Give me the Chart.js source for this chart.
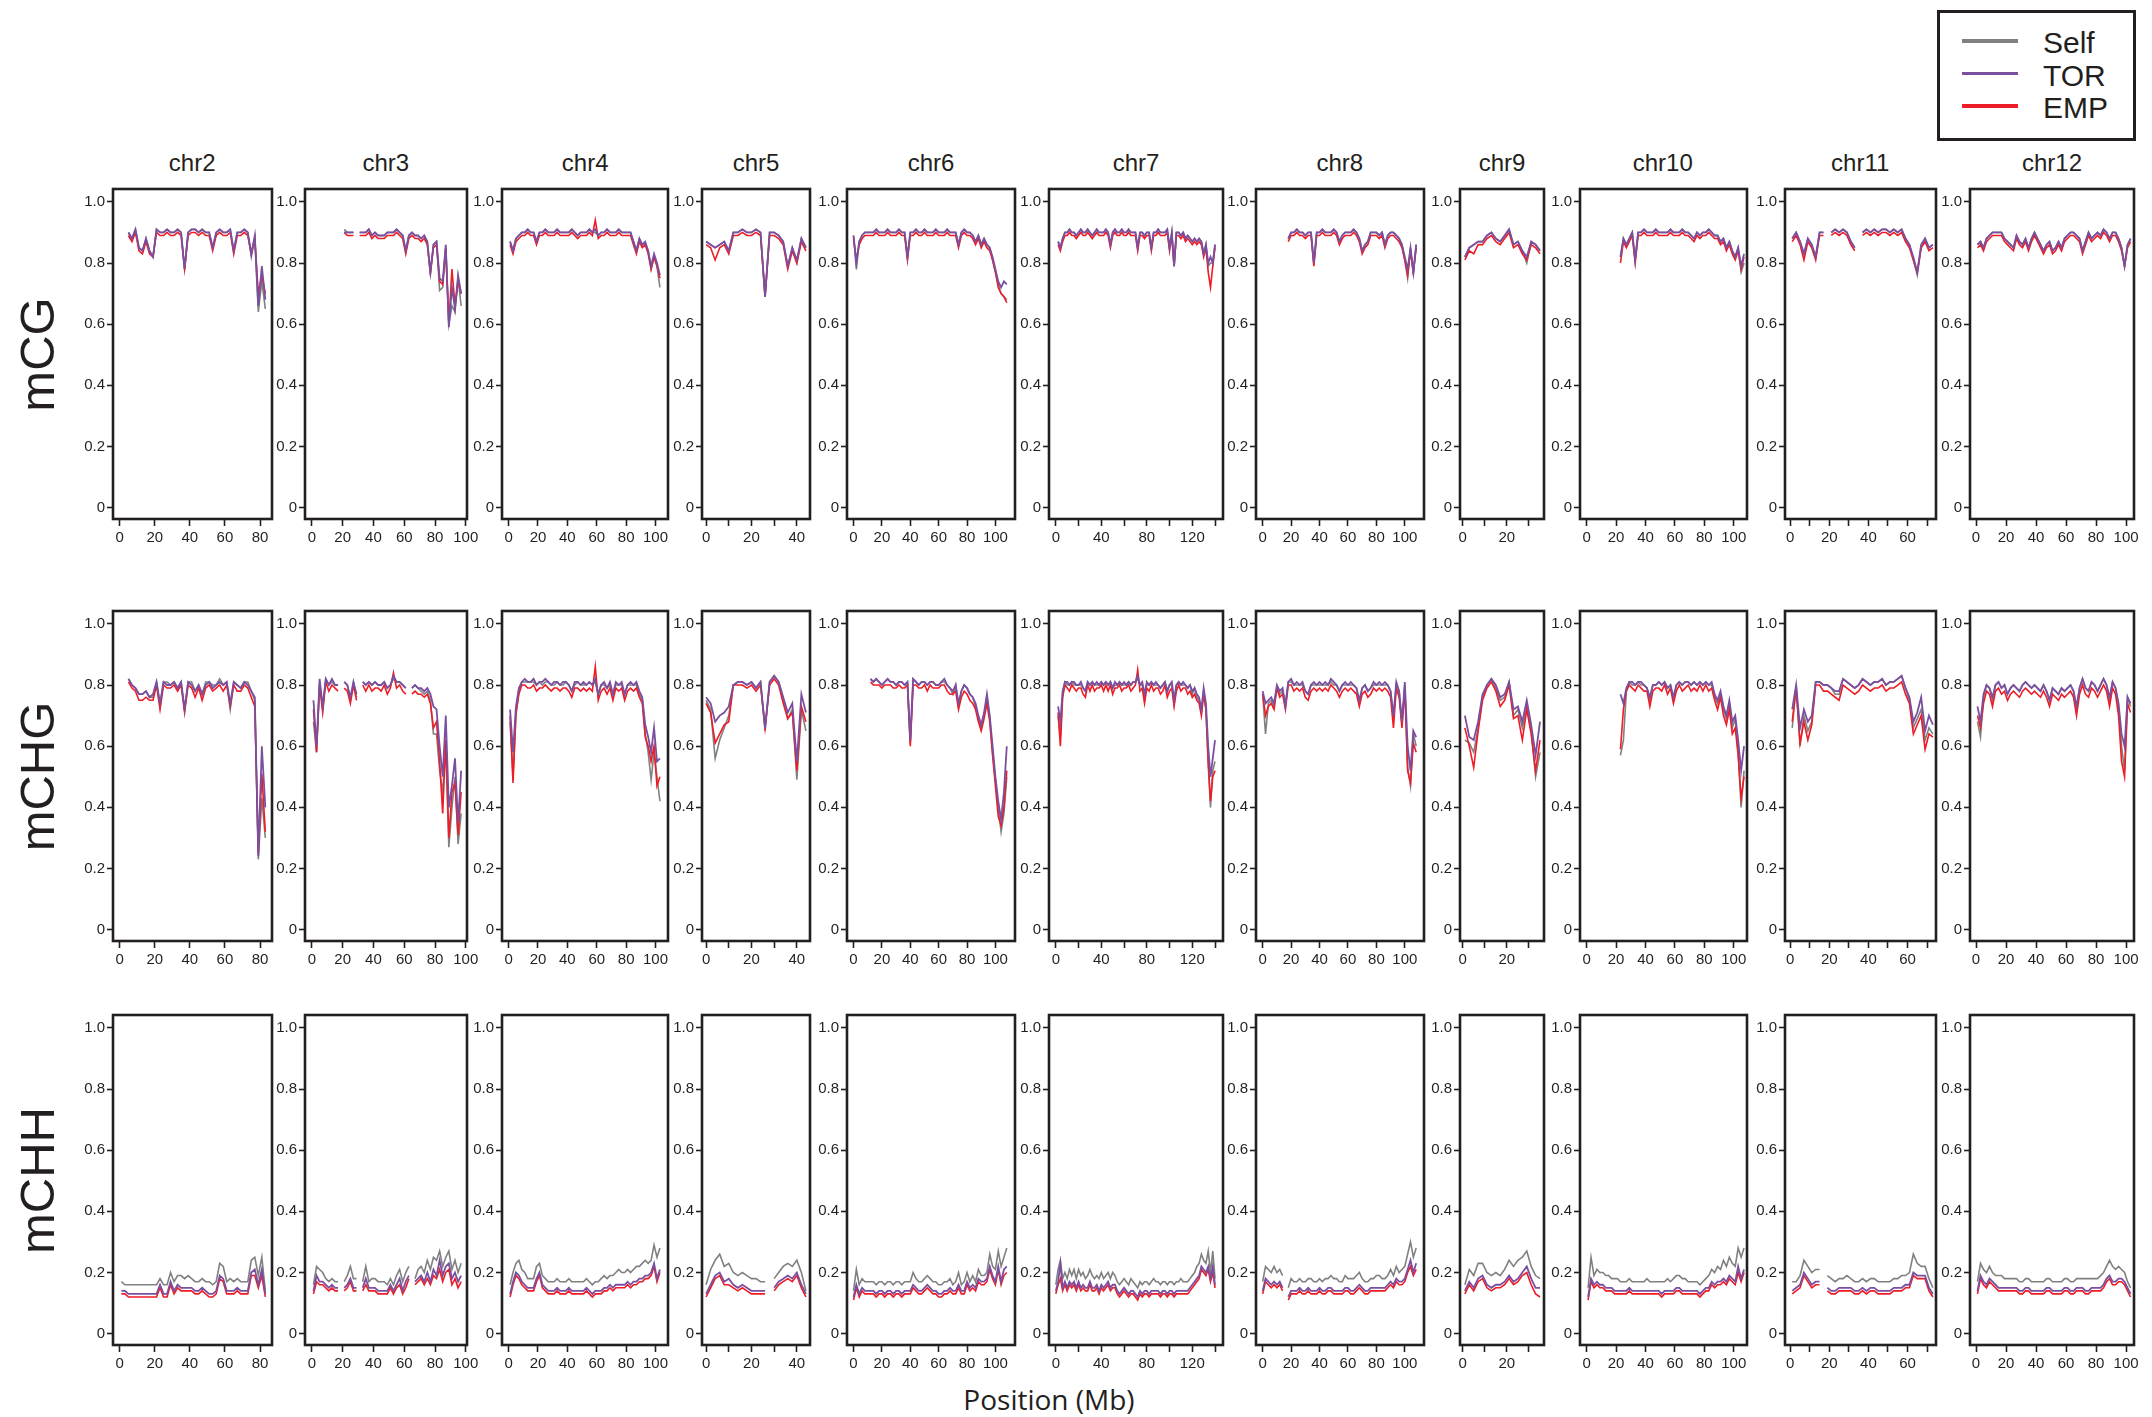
<!DOCTYPE html>
<html>
<head>
<meta charset="utf-8">
<script src="https://cdn.jsdelivr.net/npm/chart.js@4.4.1/dist/chart.umd.min.js"></script>
<style>
  body { margin: 0; background: #fff; width: 2152px; height: 1417px; position: relative; overflow: hidden;
         font-family: "Liberation Sans", Arial, sans-serif; color: #231f20; }
  canvas { position: absolute; }
  .lbl { position: absolute; white-space: nowrap; line-height: 1; }
</style>
</head>
<body>
<script>
const _ = null;

// Chromosomes, contexts and groups
const chromosomes = ['chr2', 'chr3', 'chr4', 'chr5', 'chr6', 'chr7', 'chr8', 'chr9', 'chr10', 'chr11', 'chr12'];
const contexts = ['mCG', 'mCHG', 'mCHH'];
const groups = ['Self', 'TOR', 'EMP'];

// Bins: first bin centre (Mb) per chromosome, 2 Mb apart
const binStart = [1, 1, 1, 0, 0, 0, 0, 1, 1, 1, 1];
const binSize = 2;

// Axis ranges and ticks per chromosome (Mb)
const xMin = [-3.8, -4.5, -4.5, -1.8, -4.6, -6, -4.7, -1.2, -4.5, -2.7, -4.0];
const xMax = [86.8, 100.8, 108.5, 45.8, 113.8, 147, 113.5, 36.8, 109, 74.6, 105.3];
const xTickStep = [20, 20, 20, 10, 20, 20, 20, 10, 20, 10, 20];
const xLabelStep = [20, 20, 20, 20, 20, 40, 20, 20, 20, 20, 20];
const yTicks = [0, 0.2, 0.4, 0.6, 0.8, 1.0];

// Methylation levels (%), one value per 2 Mb bin
const chr2_mCG_Self = [_,_,90,88,91,85,84,88,84,82, 91,90,90,91,90,90,91,90,78,90, 91,91,90,91,90,90,85,90,91,90, 90,91,84,90,90,91,90,82,88,64, 74,65];
const chr2_mCG_TOR  = [_,_,90,88,91,85,84,88,84,82, 91,90,90,91,90,90,91,90,78,90, 91,91,90,91,90,90,85,90,91,90, 90,91,84,90,90,91,90,83,89,66, 79,68];
const chr2_mCG_EMP  = [_,_,89,87,90,84,83,87,83,82, 90,89,89,90,89,89,90,89,78,89, 90,90,89,90,89,89,84,89,90,89, 89,90,83,89,89,90,89,83,88,70, 76,70];
const chr2_mCHG_Self = [_,_,82,80,79,77,77,78,76,76, 81,73,81,81,80,81,79,81,72,81, 81,78,80,77,81,81,80,80,82,80, 81,72,81,80,79,81,81,78,75,23, 43,30];
const chr2_mCHG_TOR  = [_,_,82,80,79,77,77,78,76,77, 81,74,81,80,80,81,79,81,72,81, 80,78,80,77,80,81,79,80,81,80, 81,74,81,80,79,81,80,78,76,24, 60,40];
const chr2_mCHG_EMP  = [_,_,81,79,78,75,75,76,75,75, 80,72,80,79,79,80,78,80,71,80, 79,76,79,75,79,80,78,79,80,78, 80,73,80,78,78,80,79,76,73,25, 51,32];
const chr2_mCHH_Self = [17,16,16,16,16,16,16,16,16,16, 16,18,16,16,20,17,19,19,18,19, 18,17,17,18,17,17,16,17,23,22, 17,18,17,18,17,17,17,24,25,19, 25,14];
const chr2_mCHH_TOR  = [14,14,13,13,13,13,13,13,13,13, 13,16,13,13,17,14,16,15,15,15, 15,14,14,15,14,13,13,14,19,18, 14,14,14,15,14,14,14,20,21,16, 21,13];
const chr2_mCHH_EMP  = [13,13,12,12,12,12,12,12,12,12, 12,15,12,12,16,13,15,14,14,14, 14,13,13,14,13,12,12,13,18,17, 13,13,13,14,13,13,13,19,19,15, 19,12];

const chr3_mCG_Self = [_,_,_,_,_,_,_,_,_,_, 91,90,90,90,_,90,90,90,91,89, 90,89,89,89,90,90,90,91,90,89, 84,89,90,89,89,88,89,87,76,86, 87,71,72,85,60,66,64,75,66];
const chr3_mCG_TOR  = [_,_,_,_,_,_,_,_,_,_, 90,90,90,90,_,90,90,90,91,89, 90,89,89,89,90,90,90,91,90,89, 84,89,90,89,89,88,89,87,77,86, 87,75,74,86,59,72,65,76,70];
const chr3_mCG_EMP  = [_,_,_,_,_,_,_,_,_,_, 90,89,89,89,_,89,89,89,90,88, 89,88,88,88,89,89,89,90,89,88, 83,88,89,88,88,87,88,86,77,85, 86,74,73,85,60,78,66,74,70];
const chr3_mCHG_Self = [68,58,81,72,82,80,81,80,80,_, 81,80,75,81,76,_,81,80,81,80, 81,80,80,81,79,80,82,81,81,80, 79,_,79,80,79,78,77,78,75,64, 64,52,45,60,27,40,50,28,38];
const chr3_mCHG_TOR  = [75,60,82,73,82,80,82,80,80,_, 81,80,76,81,77,_,81,80,81,80, 81,80,80,81,79,80,83,81,81,80, 79,_,79,80,79,79,78,79,77,73, 72,60,50,70,40,47,56,35,52];
const chr3_mCHG_EMP  = [72,58,80,71,81,78,80,79,78,_, 79,78,74,80,75,_,80,78,80,78, 79,79,78,80,77,79,84,79,80,78, 77,_,77,78,77,77,76,77,74,66, 68,55,38,62,30,45,48,31,45];
const chr3_mCHH_Self = [16,22,21,20,18,17,18,17,17,_, 17,19,22,18,18,_,17,22,17,18, 18,17,17,17,16,18,16,19,21,17, 20,22,_,18,21,22,20,24,21,25, 24,27,22,25,27,21,24,20,23];
const chr3_mCHH_TOR  = [14,19,17,17,16,15,16,15,15,_, 15,16,18,15,15,_,15,18,15,15, 15,14,14,14,14,16,14,16,18,14, 17,19,_,17,18,19,17,20,17,21, 19,24,19,22,23,18,20,17,19];
const chr3_mCHH_EMP  = [13,17,16,16,15,14,15,14,14,_, 14,15,17,14,14,_,14,16,14,14, 14,13,13,13,13,15,13,15,16,13, 15,18,_,16,17,18,16,18,16,19, 18,21,17,20,21,16,18,15,17];

const chr4_mCG_Self = [87,84,88,89,90,90,91,90,90,87, 90,90,91,90,90,90,91,90,90,90, 90,91,90,89,90,90,90,91,90,90, 89,90,90,91,90,90,90,91,90,90, 90,90,87,84,88,86,86,84,78,82, 79,72];
const chr4_mCG_TOR  = [87,84,88,89,90,90,91,90,90,87, 90,90,91,90,90,90,91,90,90,90, 90,91,90,89,90,90,90,91,90,91, 89,90,90,91,90,90,90,91,90,90, 90,90,87,84,88,86,87,84,79,83, 80,76];
const chr4_mCG_EMP  = [86,83,87,88,89,89,90,89,89,86, 89,89,90,89,89,89,90,89,89,89, 89,90,89,88,89,89,89,90,89,94, 88,89,89,90,89,89,89,90,89,89, 89,89,86,83,87,85,86,83,78,82, 79,75];
const chr4_mCHG_Self = [68,50,70,78,81,81,81,81,81,80, 81,80,81,81,80,80,81,80,80,81, 80,78,80,81,80,80,80,81,80,81, 77,80,80,79,80,77,80,80,80,77, 80,80,80,80,77,75,64,58,49,58, 50,42];
const chr4_mCHG_TOR  = [72,58,73,79,81,82,81,81,82,80, 81,81,82,81,80,81,81,80,81,81, 80,78,81,81,80,81,80,81,80,82, 77,80,81,79,81,77,81,80,81,77, 80,81,80,81,78,76,67,63,58,66, 55,56];
const chr4_mCHG_EMP  = [70,48,71,77,80,80,79,79,80,78, 79,79,80,79,78,79,79,78,79,79, 78,76,79,79,78,79,78,79,78,86, 75,78,79,77,79,75,79,78,79,75, 78,79,78,79,76,74,63,60,55,60, 47,50];
const chr4_mCHH_Self = [16,20,23,24,21,20,18,18,18,22, 23,19,18,17,17,17,18,17,17,17, 18,17,17,17,17,17,18,17,16,17, 17,18,19,18,19,19,20,21,20,20, 21,20,21,22,22,23,24,23,24,29, 25,28];
const chr4_mCHH_TOR  = [13,17,20,19,17,16,15,15,15,18, 20,16,15,14,14,14,15,14,14,14, 15,14,14,14,14,14,15,14,13,14, 14,14,15,15,16,15,16,16,16,16, 17,16,17,17,18,18,19,19,20,23, 18,21];
const chr4_mCHH_EMP  = [12,16,19,18,16,15,14,14,14,17, 19,15,14,13,13,13,14,13,13,13, 14,13,13,13,13,13,14,13,12,13, 13,13,14,14,15,14,15,15,15,15, 16,15,16,16,17,17,18,18,19,22, 17,20];

const chr5_mCG_Self = [87,86,85,86,87,84,90,90,91,90, 90,91,90,69,90,90,89,87,79,85, 80,88,85];
const chr5_mCG_TOR  = [87,86,85,86,87,84,90,90,91,90, 90,91,90,69,90,90,89,87,79,85, 81,88,85];
const chr5_mCG_EMP  = [86,85,81,85,86,83,89,89,90,89, 89,90,89,69,89,89,88,86,78,84, 80,87,84];
const chr5_mCHG_Self = [75,72,56,62,66,70,80,81,81,80, 81,79,81,65,81,83,81,75,69,72, 49,72,65];
const chr5_mCHG_TOR  = [76,74,68,70,71,73,80,81,81,80, 81,79,81,66,81,83,81,76,71,74, 55,77,71];
const chr5_mCHG_EMP  = [74,71,61,64,67,68,80,80,80,79, 80,78,80,66,80,82,80,74,69,71, 52,73,68];
const chr5_mCHH_Self = [16,21,24,26,22,23,20,19,20,19, 18,18,17,17,_,18,20,22,23,22, 24,20,14];
const chr5_mCHH_TOR  = [13,16,19,20,17,18,16,15,16,15, 14,14,14,14,_,15,17,18,19,18, 20,16,13];
const chr5_mCHH_EMP  = [12,15,18,19,16,16,15,14,15,14, 13,13,13,13,_,14,16,17,18,17, 19,15,12];

const chr6_mCG_Self = [89,78,87,89,90,90,90,90,91,90, 90,90,91,90,90,90,91,90,90,82, 90,90,91,90,90,91,90,90,90,91, 90,90,90,91,90,90,90,86,90,91, 90,90,89,87,89,86,88,86,85,81, 77,73,70,69,68];
const chr6_mCG_TOR  = [89,80,87,89,90,90,90,90,91,90, 90,90,91,90,90,90,91,90,90,82, 90,90,91,90,90,91,90,90,90,91, 90,90,90,91,90,90,90,86,90,91, 90,90,89,87,89,86,88,86,85,82, 78,74,72,74,73];
const chr6_mCG_EMP  = [88,81,86,88,89,89,89,89,90,89, 89,89,90,89,89,89,90,89,89,81, 89,89,90,89,89,90,89,89,89,90, 89,89,89,90,89,89,89,85,89,90, 89,89,88,86,88,85,87,85,84,81, 77,72,70,69,67];
const chr6_mCHG_Self = [_,_,_,_,_,_,82,81,82,81, 80,81,82,81,81,80,81,81,80,81, 61,82,81,80,81,81,80,81,81,80, 80,81,81,80,79,77,80,73,78,80, 79,77,76,73,69,66,70,76,69,58, 49,40,32,38,50];
const chr6_mCHG_TOR  = [_,_,_,_,_,_,82,81,82,81, 80,81,82,81,81,80,81,81,80,81, 62,82,81,80,81,81,80,81,81,80, 80,81,82,80,79,78,80,74,78,80, 79,77,76,74,70,67,71,77,70,60, 50,42,36,45,60];
const chr6_mCHG_EMP  = [_,_,_,_,_,_,81,80,80,80, 79,80,80,80,79,79,80,79,79,80, 60,80,80,79,79,80,78,80,79,79, 79,80,80,78,77,77,78,72,76,78, 77,75,74,72,68,65,69,74,68,57, 47,37,34,40,52];
const chr6_mCHH_Self = [14,21,16,18,17,17,17,17,16,17, 17,16,17,17,16,17,17,16,17,17, 17,20,18,17,17,18,19,18,17,17, 16,16,17,17,18,16,17,20,16,17, 20,17,19,17,21,19,19,20,26,22, 21,27,22,25,28];
const chr6_mCHH_TOR  = [12,16,13,15,14,14,14,14,13,14, 14,13,14,14,13,14,14,13,14,14, 14,16,15,14,14,15,16,15,14,14, 13,13,14,14,15,14,14,16,14,14, 17,15,16,15,18,17,17,18,22,19, 17,22,17,21,22];
const chr6_mCHH_EMP  = [11,15,12,14,13,13,13,13,12,13, 13,12,13,13,12,13,13,12,13,13, 13,15,14,13,13,14,15,14,13,13, 12,12,13,13,14,13,13,15,13,13, 16,14,15,14,17,16,16,17,21,18, 16,21,16,19,20];

const chr7_mCG_Self = [_,87,85,88,90,90,91,90,90,89, 90,91,90,90,91,90,89,90,91,90, 90,90,91,90,86,90,91,90,90,91, 90,90,91,90,90,90,85,90,90,89, 90,90,85,90,90,91,90,90,90,91, 85,90,79,90,90,89,90,88,89,88, 87,88,87,88,87,83,86,79,80,80, 86];
const chr7_mCG_TOR  = [_,87,85,88,90,90,91,90,90,89, 90,91,90,90,91,90,89,90,91,90, 90,90,91,90,86,90,91,90,90,91, 90,90,91,90,90,90,85,90,90,89, 90,90,85,90,90,91,90,90,90,91, 85,90,79,90,90,89,90,88,89,88, 87,88,87,88,87,83,86,80,82,80, 86];
const chr7_mCG_EMP  = [_,86,84,87,89,89,90,89,89,88, 89,90,89,89,90,89,88,89,90,89, 89,89,90,89,85,89,90,89,89,90, 89,89,90,89,89,89,84,89,89,88, 89,89,84,89,89,90,89,89,89,90, 84,89,79,89,89,88,89,87,88,87, 86,87,86,87,86,82,85,77,72,79, 85];
const chr7_mCHG_Self = [_,70,63,77,81,80,80,81,80,80, 80,80,79,78,81,80,81,80,80,80, 81,80,81,80,81,79,80,80,81,80, 80,80,81,80,81,81,82,80,80,77, 80,80,81,80,80,80,79,80,81,78, 80,80,74,80,81,80,80,80,79,80, 77,79,76,75,71,78,72,54,40,52, 55];
const chr7_mCHG_TOR  = [_,73,68,78,81,81,80,81,81,80, 80,81,79,78,81,80,81,80,81,80, 81,80,81,80,81,79,81,80,81,80, 81,80,81,80,81,81,83,80,81,77, 81,80,81,80,81,80,79,80,81,78, 80,81,75,80,81,80,81,80,79,80, 78,79,77,76,72,79,74,60,50,56, 62];
const chr7_mCHG_EMP  = [_,71,60,76,80,79,78,80,79,78, 79,79,77,76,80,78,80,78,79,79, 80,78,80,78,80,77,79,79,80,78, 79,79,80,78,79,80,85,78,79,74, 79,78,80,78,79,79,77,78,80,76, 78,79,73,78,80,78,79,79,77,78, 76,77,75,74,70,77,72,55,42,50, 52];
const chr7_mCHH_Self = [16,21,24,18,20,18,21,19,21,18, 21,19,20,18,19,21,19,18,19,18, 20,18,19,20,18,20,19,17,16,17, 18,17,16,18,17,16,15,17,16,17, 17,16,17,18,17,17,16,17,17,16, 17,17,16,17,17,18,17,17,17,18, 19,20,22,23,26,24,23,27,20,27, 18];
const chr7_mCHH_TOR  = [14,17,23,15,17,15,17,16,17,15, 17,15,16,15,15,17,15,15,16,14, 16,15,16,17,15,16,16,14,13,14, 15,14,13,14,14,13,12,14,13,14, 14,13,14,14,14,14,13,14,14,13, 14,14,13,14,14,14,14,14,14,15, 16,17,18,19,22,21,20,22,18,22, 16];
const chr7_mCHH_EMP  = [13,16,18,14,16,14,16,15,16,14, 16,14,15,14,14,16,14,14,15,13, 15,14,15,16,14,15,15,13,12,13, 14,13,12,13,13,12,11,13,12,13, 13,12,13,13,13,13,12,13,13,12, 13,13,12,13,13,13,13,13,13,14, 15,16,17,18,21,20,19,21,17,20, 15];

const chr8_mCG_Self = [_,_,_,_,_,_,_,_,_,88, 90,90,91,90,90,89,90,90,80,90, 90,91,90,90,90,91,90,87,89,90, 90,90,91,90,88,84,86,87,90,90, 90,89,90,86,89,90,90,89,88,86, 81,75,85,76,86];
const chr8_mCG_TOR  = [_,_,_,_,_,_,_,_,_,88, 90,90,91,90,90,89,90,90,80,90, 90,91,90,90,90,91,90,87,89,90, 90,90,91,90,88,84,86,87,90,90, 90,89,90,86,89,90,90,89,88,86, 82,78,85,77,86];
const chr8_mCG_EMP  = [_,_,_,_,_,_,_,_,_,87, 89,89,90,89,89,88,89,89,79,89, 89,90,89,89,89,90,89,86,88,89, 89,89,90,89,87,83,85,86,89,89, 89,88,89,85,88,89,89,88,87,85, 81,76,84,77,85];
const chr8_mCHG_Self = [77,64,74,75,73,79,77,78,74,81, 81,80,80,80,80,78,77,80,80,80, 80,80,80,80,81,80,80,78,80,80, 80,80,80,79,74,79,80,78,79,80, 80,80,80,80,80,78,69,80,78,67, 80,53,47,64,60];
const chr8_mCHG_TOR  = [78,74,75,76,74,80,78,79,73,81, 82,80,81,80,81,78,77,80,81,80, 81,80,81,80,82,81,80,78,80,81, 80,81,80,79,75,79,80,78,79,81, 80,81,80,81,80,78,70,81,78,68, 81,60,52,65,63];
const chr8_mCHG_EMP  = [77,70,73,74,72,79,76,77,72,80, 80,78,79,78,79,76,75,78,79,78, 79,78,79,78,80,79,78,76,78,79, 78,79,78,77,73,77,78,76,77,79, 78,79,78,79,78,76,66,79,76,66, 79,52,48,61,58];
const chr8_mCHH_Self = [17,22,21,20,22,20,21,19,_,15, 18,17,17,18,17,17,18,18,17,17, 18,17,18,18,19,18,18,17,17,19, 18,18,18,19,20,18,17,17,18,18, 19,19,18,18,19,21,19,22,20,21, 22,26,30,25,28];
const chr8_mCHH_TOR  = [14,18,17,16,17,16,17,15,_,12, 14,14,14,15,14,14,15,14,14,14, 15,14,14,15,15,14,14,14,14,15, 15,14,14,15,16,15,14,14,15,15, 15,15,15,15,16,17,16,18,17,17, 18,21,24,20,23];
const chr8_mCHH_EMP  = [13,17,16,15,16,15,16,14,_,11, 13,13,13,14,13,13,14,13,13,13, 14,13,13,14,14,13,13,13,13,14, 14,13,13,14,15,14,13,13,14,14, 14,14,14,14,15,16,15,17,16,16, 17,20,22,19,21];

const chr9_mCG_Self = [82,85,86,87,87,89,90,88,87,89, 91,86,87,84,80,87,86,84];
const chr9_mCG_TOR  = [82,85,86,87,87,89,90,88,87,89, 91,86,87,84,82,87,86,84];
const chr9_mCG_EMP  = [81,84,83,86,86,88,89,87,86,88, 90,85,86,83,81,86,85,83];
const chr9_mCHG_Self = [62,61,58,66,76,80,82,79,75,76, 81,70,72,66,73,65,50,58];
const chr9_mCHG_TOR  = [70,63,62,68,77,80,82,80,76,77, 81,72,73,68,75,67,57,68];
const chr9_mCHG_EMP  = [66,60,53,65,75,79,81,78,73,75, 80,69,70,62,72,64,52,62];
const chr9_mCHH_Self = [16,21,19,23,23,20,19,20,19,21, 24,22,24,25,27,22,19,18];
const chr9_mCHH_TOR  = [14,17,15,18,19,16,15,16,16,17, 19,17,18,20,22,18,15,15];
const chr9_mCHH_EMP  = [13,16,14,17,18,15,14,15,15,16, 18,16,17,19,20,16,13,12];

const chr10_mCG_Self = [_,_,_,_,_,_,_,_,_,_, _,82,88,86,88,90,81,90,90,91, 90,90,90,91,90,90,90,90,91,90, 90,90,91,90,90,89,88,90,89,90, 90,91,90,89,89,87,88,85,87,84, 82,85,77,80];
const chr10_mCG_TOR  = [_,_,_,_,_,_,_,_,_,_, _,82,88,86,88,90,81,90,90,91, 90,90,90,91,90,90,90,90,91,90, 90,90,91,90,90,89,88,90,89,90, 90,91,90,89,89,87,88,85,87,84, 82,85,79,83];
const chr10_mCG_EMP  = [_,_,_,_,_,_,_,_,_,_, _,80,87,85,87,89,80,89,89,90, 89,89,89,90,89,89,89,89,90,89, 89,89,90,89,89,88,87,89,88,89, 89,90,89,88,88,86,87,84,86,83, 81,84,78,82];
const chr10_mCHG_Self = [_,_,_,_,_,_,_,_,_,_, _,57,62,78,81,80,80,81,80,80, 79,75,80,80,81,80,81,79,80,75, 80,81,80,81,81,80,81,80,81,80, 81,80,80,76,74,77,72,69,74,66, 69,58,40,52];
const chr10_mCHG_TOR  = [_,_,_,_,_,_,_,_,_,_, _,77,74,79,81,81,80,81,81,80, 79,76,80,80,81,80,81,79,80,76, 80,81,80,81,81,80,81,80,81,80, 81,80,81,77,75,78,73,70,75,68, 70,62,52,60];
const chr10_mCHG_EMP  = [_,_,_,_,_,_,_,_,_,_, _,59,72,78,80,79,78,80,79,78, 78,73,78,79,79,78,80,77,79,74, 78,80,78,79,80,78,79,78,80,78, 80,78,79,75,72,76,70,67,72,64, 66,57,43,50];
const chr10_mCHH_Self = [15,25,19,21,20,20,19,19,18,18, 18,17,17,17,18,17,17,17,17,17, 18,17,17,17,17,17,17,18,17,18, 19,19,18,18,17,17,17,17,16,17, 18,19,21,20,22,21,24,22,25,23, 22,28,25,28];
const chr10_mCHH_TOR  = [12,18,16,17,16,16,15,15,15,14, 14,14,14,14,15,14,14,14,14,14, 14,14,14,14,14,13,14,14,14,14, 15,15,14,14,14,14,14,14,13,14, 15,15,17,16,17,17,18,17,19,18, 17,22,18,21];
const chr10_mCHH_EMP  = [11,17,15,16,15,15,14,14,14,13, 13,13,13,13,14,13,13,13,13,13, 13,13,13,13,13,12,13,13,13,13, 14,14,13,13,13,13,13,13,12,13, 14,14,16,15,16,16,17,16,18,17, 16,20,17,20];

const chr11_mCG_Self = [88,90,87,83,88,86,82,90,90,_, 90,91,90,91,90,87,85,_,90,91, 90,91,90,91,91,90,91,90,91,88, 86,81,76,85,88,85,86];
const chr11_mCG_TOR  = [88,90,87,83,88,86,82,90,90,_, 90,91,90,91,90,87,85,_,90,91, 90,91,90,91,91,90,91,90,91,88, 86,82,77,86,88,85,86];
const chr11_mCG_EMP  = [87,89,86,81,87,85,81,89,89,_, 89,90,89,90,89,86,84,_,89,90, 89,90,89,90,90,89,90,89,90,87, 85,81,77,85,87,84,85];
const chr11_mCHG_Self = [66,80,60,70,65,68,81,81,80,80, 79,77,77,82,81,80,79,80,82,81, 80,81,81,82,80,81,81,82,83,79, 75,66,69,72,62,66,64];
const chr11_mCHG_TOR  = [72,80,66,72,68,70,81,81,80,80, 79,78,78,82,81,80,79,80,82,81, 80,81,81,82,80,81,81,82,83,79, 76,68,71,76,65,70,67];
const chr11_mCHG_EMP  = [68,79,61,68,62,67,80,80,78,78, 77,76,75,80,79,78,77,78,80,79, 78,79,79,80,78,79,79,80,81,77, 74,64,67,70,59,64,63];
const chr11_mCHH_Self = [17,17,19,24,22,20,21,21,_,19, 18,17,18,18,19,18,17,17,18,17, 18,18,17,17,17,17,18,18,19,19, 20,26,23,22,22,18,15];
const chr11_mCHH_TOR  = [14,15,16,20,18,16,17,17,_,15, 14,14,15,15,15,15,14,14,15,14, 15,15,14,14,14,14,15,15,15,16, 16,20,19,19,19,15,13];
const chr11_mCHH_EMP  = [13,14,15,19,17,15,16,16,_,14, 13,13,14,14,14,14,13,13,14,13, 14,14,13,13,13,13,14,14,14,15, 15,19,18,18,18,14,12];

const chr12_mCG_Self = [86,87,85,88,89,90,90,90,90,88, 87,86,85,89,87,86,88,85,88,90, 88,86,84,86,87,84,85,87,85,88, 89,90,90,89,88,84,87,90,88,89, 90,89,91,90,88,90,90,88,85,79, 86,88];
const chr12_mCG_TOR  = [86,87,85,88,89,90,90,90,90,88, 87,86,85,89,87,86,88,85,88,90, 88,86,84,86,87,84,85,87,85,88, 89,90,90,89,88,84,87,90,88,89, 90,89,91,90,88,90,90,88,85,79, 86,88];
const chr12_mCG_EMP  = [85,86,84,87,88,89,89,89,89,87, 86,85,84,88,86,85,87,84,87,89, 87,85,83,85,86,83,84,86,84,87, 88,89,89,88,87,83,86,89,87,88, 89,88,90,89,87,89,89,87,84,79, 85,87];
const chr12_mCHG_Self = [68,63,76,80,79,75,80,81,79,80, 77,79,80,79,78,80,81,80,79,80, 79,78,80,78,75,79,78,77,79,78, 79,80,78,72,79,82,79,78,81,80, 78,80,82,80,75,81,79,73,60,52, 76,73];
const chr12_mCHG_TOR  = [73,68,77,80,79,76,80,81,79,80, 77,79,80,79,78,80,81,80,79,80, 79,78,80,78,75,79,78,77,79,78, 79,80,78,73,79,82,79,78,81,80, 78,80,82,80,76,81,79,74,64,60, 76,74];
const chr12_mCHG_EMP  = [70,66,74,78,77,73,78,79,77,78, 75,77,78,77,76,78,79,78,77,78, 77,76,78,76,73,77,76,75,77,76, 77,78,76,70,77,80,77,76,79,78, 76,78,80,78,73,79,77,70,55,50, 74,71];
const chr12_mCHH_Self = [17,23,21,20,22,20,19,19,19,18, 18,18,18,18,17,17,18,18,17,17, 17,17,17,18,18,17,17,17,17,18, 18,17,17,18,18,18,18,18,18,18, 18,19,20,22,24,22,21,22,21,20, 17,15];
const chr12_mCHH_TOR  = [14,19,17,16,18,17,16,15,15,15, 15,15,15,15,14,14,15,15,14,14, 14,14,14,15,15,14,14,14,14,15, 15,14,14,15,15,15,14,14,15,15, 15,15,16,18,19,17,17,18,18,17, 15,13];
const chr12_mCHH_EMP  = [13,18,16,15,17,16,15,14,14,14, 14,14,14,14,13,13,14,14,13,13, 13,13,13,14,14,13,13,13,13,14, 14,13,13,14,14,14,13,13,14,14, 14,14,15,17,18,16,16,17,17,16, 14,12];

// lookup [chromosome][context] -> [Self, TOR, EMP]
const seriesTable = {
  chr2:  [[chr2_mCG_Self, chr2_mCG_TOR, chr2_mCG_EMP], [chr2_mCHG_Self, chr2_mCHG_TOR, chr2_mCHG_EMP], [chr2_mCHH_Self, chr2_mCHH_TOR, chr2_mCHH_EMP]],
  chr3:  [[chr3_mCG_Self, chr3_mCG_TOR, chr3_mCG_EMP], [chr3_mCHG_Self, chr3_mCHG_TOR, chr3_mCHG_EMP], [chr3_mCHH_Self, chr3_mCHH_TOR, chr3_mCHH_EMP]],
  chr4:  [[chr4_mCG_Self, chr4_mCG_TOR, chr4_mCG_EMP], [chr4_mCHG_Self, chr4_mCHG_TOR, chr4_mCHG_EMP], [chr4_mCHH_Self, chr4_mCHH_TOR, chr4_mCHH_EMP]],
  chr5:  [[chr5_mCG_Self, chr5_mCG_TOR, chr5_mCG_EMP], [chr5_mCHG_Self, chr5_mCHG_TOR, chr5_mCHG_EMP], [chr5_mCHH_Self, chr5_mCHH_TOR, chr5_mCHH_EMP]],
  chr6:  [[chr6_mCG_Self, chr6_mCG_TOR, chr6_mCG_EMP], [chr6_mCHG_Self, chr6_mCHG_TOR, chr6_mCHG_EMP], [chr6_mCHH_Self, chr6_mCHH_TOR, chr6_mCHH_EMP]],
  chr7:  [[chr7_mCG_Self, chr7_mCG_TOR, chr7_mCG_EMP], [chr7_mCHG_Self, chr7_mCHG_TOR, chr7_mCHG_EMP], [chr7_mCHH_Self, chr7_mCHH_TOR, chr7_mCHH_EMP]],
  chr8:  [[chr8_mCG_Self, chr8_mCG_TOR, chr8_mCG_EMP], [chr8_mCHG_Self, chr8_mCHG_TOR, chr8_mCHG_EMP], [chr8_mCHH_Self, chr8_mCHH_TOR, chr8_mCHH_EMP]],
  chr9:  [[chr9_mCG_Self, chr9_mCG_TOR, chr9_mCG_EMP], [chr9_mCHG_Self, chr9_mCHG_TOR, chr9_mCHG_EMP], [chr9_mCHH_Self, chr9_mCHH_TOR, chr9_mCHH_EMP]],
  chr10: [[chr10_mCG_Self, chr10_mCG_TOR, chr10_mCG_EMP], [chr10_mCHG_Self, chr10_mCHG_TOR, chr10_mCHG_EMP], [chr10_mCHH_Self, chr10_mCHH_TOR, chr10_mCHH_EMP]],
  chr11: [[chr11_mCG_Self, chr11_mCG_TOR, chr11_mCG_EMP], [chr11_mCHG_Self, chr11_mCHG_TOR, chr11_mCHG_EMP], [chr11_mCHH_Self, chr11_mCHH_TOR, chr11_mCHH_EMP]],
  chr12: [[chr12_mCG_Self, chr12_mCG_TOR, chr12_mCG_EMP], [chr12_mCHG_Self, chr12_mCHG_TOR, chr12_mCHG_EMP], [chr12_mCHH_Self, chr12_mCHH_TOR, chr12_mCHH_EMP]]
};

// Page layout (px)
const boxLeft  = [112.7, 305, 502, 702, 847, 1049, 1256, 1460, 1579.5, 1785, 1970];
const boxRight = [271.7, 466.7, 668.3, 810, 1015, 1223, 1423.5, 1544, 1746, 1935.5, 2134];
const rowTop = [189, 611, 1015];
const boxH = 330;
const groupColors = { Self: '#808080', TOR: '#7b4fa0', EMP: '#ee1c25' };
const ink = '#231f20';
const tickFont = { family: '"Liberation Sans", Arial, sans-serif', size: 15 };

// Draw a full frame around the plot region
const framePlugin = {
  id: 'frame',
  afterDraw(chart) {
    const a = chart.chartArea;
    const ctx = chart.ctx;
    ctx.save();
    ctx.strokeStyle = ink;
    ctx.lineWidth = 2.6;
    ctx.strokeRect(a.left, a.top, a.right - a.left, a.bottom - a.top);
    ctx.restore();
  }
};

function toPoints(values, c) {
  return values.map((v, i) => ({ x: binStart[c] + i * binSize, y: v === null ? null : v / 100 }));
}

// keep the plot box exactly where the layout says: no label overflow padding
function noPad(s) {
  s.paddingTop = 0; s.paddingBottom = 0; s.paddingLeft = 0; s.paddingRight = 0;
}

function makePanel(r, c) {
  const padL = 48, padT = 4, padR = 18, padB = 48;
  const w = Math.round(boxRight[c] - boxLeft[c]);
  const canvas = document.createElement('canvas');
  canvas.width = w + padL + padR;
  canvas.height = boxH + padT + padB;
  canvas.style.left = (Math.round(boxLeft[c]) - padL) + 'px';
  canvas.style.top = (rowTop[r] - padT) + 'px';
  document.body.appendChild(canvas);

  const [selfVals, torVals, empVals] = seriesTable[chromosomes[c]][r];
  // TOR first so it is drawn on top, Self last (bottom)
  const datasets = [
    { label: 'TOR', data: toPoints(torVals, c), borderColor: groupColors.TOR, borderWidth: 1.8 },
    { label: 'EMP', data: toPoints(empVals, c), borderColor: groupColors.EMP, borderWidth: 1.6 },
    { label: 'Self', data: toPoints(selfVals, c), borderColor: groupColors.Self, borderWidth: 1.6 }
  ];

  const xt = [];
  for (let v = 0; v <= xMax[c]; v += xTickStep[c]) xt.push(v);

  new Chart(canvas, {
    type: 'line',
    data: { datasets },
    options: {
      responsive: false,
      animation: false,
      devicePixelRatio: 1,
      layout: { padding: { left: 0, top: padT, right: padR, bottom: 0 } },
      plugins: { legend: { display: false }, tooltip: { enabled: false } },
      elements: { point: { radius: 0 }, line: { tension: 0, fill: false } },
      spanGaps: false,
      scales: {
        x: {
          type: 'linear', min: xMin[c], max: xMax[c],
          afterFit: s => { s.height = padB; noPad(s); },
          afterBuildTicks: s => { s.ticks = xt.map(v => ({ value: v })); },
          grid: { display: true, drawOnChartArea: false, drawTicks: true, tickLength: 7, tickWidth: 1.6, tickColor: ink },
          border: { display: false },
          ticks: { autoSkip: false, maxRotation: 0, padding: 3, color: ink, font: tickFont,
                   callback: v => (v % xLabelStep[c] === 0 ? String(v) : '') }
        },
        y: {
          type: 'linear', min: -0.037, max: 1.042,
          afterFit: s => { s.width = padL; noPad(s); },
          afterBuildTicks: s => { s.ticks = yTicks.map(v => ({ value: v })); },
          grid: { display: true, drawOnChartArea: false, drawTicks: true, tickLength: 6, tickWidth: 1.6, tickColor: ink },
          border: { display: false },
          ticks: { autoSkip: false, padding: 2, color: ink, font: tickFont,
                   callback: v => (v === 0 ? '0' : v.toFixed(1)) }
        }
      }
    },
    plugins: [framePlugin]
  });
}

function addText(text, css) {
  const d = document.createElement('div');
  d.className = 'lbl';
  d.textContent = text;
  Object.assign(d.style, css);
  document.body.appendChild(d);
  return d;
}

// Chromosome titles
chromosomes.forEach((name, c) => {
  const cx = (boxLeft[c] + boxRight[c]) / 2;
  addText(name, { left: (cx - 60) + 'px', top: '151px', width: '120px', textAlign: 'center', fontSize: '24px' });
});

// Context labels (rotated)
contexts.forEach((name, r) => {
  const cy = rowTop[r] + boxH / 2;
  addText(name, { left: (37 - 100) + 'px', top: (cy - 24.5) + 'px', width: '200px', height: '49px',
                  lineHeight: '49px', textAlign: 'center', fontSize: '49px', transform: 'rotate(-90deg)' });
});

// Axis title
addText('Position (Mb)', { left: (1049 - 150) + 'px', top: '1385px', width: '300px', textAlign: 'center',
                           fontSize: '28px', fontFamily: '"Open Sans", sans-serif' });

// Legend
const legendBox = document.createElement('div');
Object.assign(legendBox.style, { position: 'absolute', left: '1937px', top: '10px', width: '199px', height: '131px',
                                 border: '3.5px solid ' + ink, boxSizing: 'border-box' });
document.body.appendChild(legendBox);
const legendLineY = [41, 73.5, 106];
const legendTextY = [42.5, 75.5, 107.5];
groups.forEach((g, i) => {
  const ln = document.createElement('div');
  Object.assign(ln.style, { position: 'absolute', left: '1962px', top: (legendLineY[i] - 1.6) + 'px', width: '56px',
                            height: '3.2px', background: groupColors[g] });
  document.body.appendChild(ln);
  addText(g, { left: '2043px', top: (legendTextY[i] - 15) + 'px', fontSize: '30px' });
});

for (let r = 0; r < contexts.length; r++) {
  for (let c = 0; c < chromosomes.length; c++) makePanel(r, c);
}
</script>
</body>
</html>
